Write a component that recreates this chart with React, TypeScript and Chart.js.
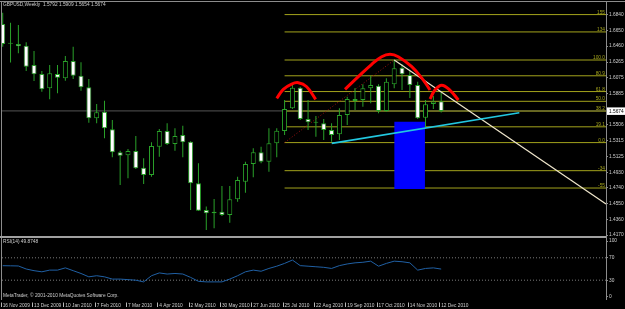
import React, { useEffect, useRef } from 'react';
import { Chart, registerables } from 'chart.js';

Chart.register(...registerables);

// ---------- data ----------
const symbolTitle = 'GBPUSD,Weekly';
const dateLabels = ['16 Nov 2009', '13 Dec 2009', '10 Jan 2010', '7 Feb 2010', '7 Mar 2010', '4 Apr 2010', '2 May 2010', '30 May 2010', '27 Jun 2010', '25 Jul 2010', '22 Aug 2010', '19 Sep 2010', '17 Oct 2010', '14 Nov 2010', '12 Dec 2010'];
const dateTickIndex = [0, 4, 8, 12, 16, 20, 24, 28, 32, 36, 40, 44, 48, 52, 56];

const opens = [1.6727, 1.6488, 1.6485, 1.6464, 1.6230, 1.6121, 1.5948, 1.6121, 1.6069, 1.6279, 1.6101, 1.5960, 1.5584, 1.5664, 1.5451, 1.5172, 1.5136, 1.5188, 1.4986, 1.4897, 1.5240, 1.5430, 1.5273, 1.5382, 1.5301, 1.4796, 1.4473, 1.4433, 1.4452, 1.4412, 1.4603, 1.4816, 1.5030, 1.5172, 1.5058, 1.5281, 1.5430, 1.5705, 1.5955, 1.5576, 1.5543, 1.5524, 1.5442, 1.5390, 1.5624, 1.5794, 1.5806, 1.5948, 1.5979, 1.5673, 1.5996, 1.6198, 1.6109, 1.5988, 1.5592, 1.5758, 1.5792];
const highs = [1.6864, 1.6743, 1.6715, 1.6505, 1.6400, 1.6158, 1.6230, 1.6230, 1.6339, 1.6452, 1.6263, 1.6061, 1.5758, 1.5798, 1.5564, 1.5192, 1.5212, 1.5370, 1.5099, 1.5293, 1.5455, 1.5524, 1.5463, 1.5495, 1.5305, 1.5039, 1.4515, 1.4606, 1.4764, 1.4764, 1.4876, 1.5058, 1.5221, 1.5240, 1.5463, 1.5463, 1.5806, 1.5988, 1.5967, 1.5806, 1.5612, 1.5576, 1.5524, 1.5705, 1.5846, 1.5951, 1.5996, 1.6101, 1.5996, 1.6069, 1.6291, 1.6239, 1.6158, 1.6028, 1.5806, 1.5855, 1.5909];
const lows = [1.6452, 1.6261, 1.6372, 1.6158, 1.6036, 1.5907, 1.5815, 1.5887, 1.6040, 1.6061, 1.5919, 1.5531, 1.5524, 1.5342, 1.5112, 1.4776, 1.4857, 1.4970, 1.4788, 1.4876, 1.5119, 1.5261, 1.5192, 1.5112, 1.4473, 1.4461, 1.4230, 1.4251, 1.4400, 1.4319, 1.4573, 1.4683, 1.4869, 1.5039, 1.4937, 1.5112, 1.5382, 1.5697, 1.5564, 1.5442, 1.5361, 1.5321, 1.5301, 1.5321, 1.5503, 1.5685, 1.5725, 1.5766, 1.5645, 1.5664, 1.5948, 1.5927, 1.5830, 1.5576, 1.5470, 1.5697, 1.5654];
const closes = [1.6485, 1.6497, 1.6457, 1.6210, 1.6118, 1.5936, 1.6130, 1.6076, 1.6279, 1.6101, 1.5960, 1.5584, 1.5657, 1.5463, 1.5172, 1.5131, 1.5188, 1.4978, 1.4897, 1.5249, 1.5430, 1.5273, 1.5370, 1.5293, 1.4796, 1.4464, 1.4433, 1.4452, 1.4412, 1.4603, 1.4836, 1.5030, 1.5172, 1.5058, 1.5281, 1.5434, 1.5697, 1.5955, 1.5576, 1.5536, 1.5531, 1.5442, 1.5382, 1.5624, 1.5818, 1.5818, 1.5948, 1.5988, 1.5673, 1.6028, 1.6190, 1.6118, 1.5988, 1.5584, 1.5754, 1.5788, 1.5674];

const rsiValues = [55.9, 55.7, 55.4, 50, 47, 45, 48, 48, 52, 47, 42, 36, 38, 36, 32, 32, 31, 30, 27, 38, 43, 41, 42, 41, 35, 28, 27, 27, 27, 32, 38, 45, 48, 46, 51, 55, 60, 66, 56, 55, 54, 53, 51, 56, 59, 61, 62, 64, 55, 60, 64, 63, 61, 48, 51, 52, 49.8748];
const rsiLevels = [30, 70];
const rsiTicks = [0, 30, 70, 100];

const priceTicks = [1.6840, 1.6650, 1.6460, 1.6265, 1.6075, 1.5885, 1.5506, 1.5315, 1.5125, 1.4930, 1.4740, 1.4550, 1.4360, 1.4170];

const fibLevels = [-55, -34, 0, 19.1, 38.2, 50, 61.8, 80.9, 100, 134, 155];
const fibLabels = ['-55', '-34', '0.0', '19.1', '38.2', '50.0', '61.8', '80.9', '100.0', '134', '155'];
const fibAnchorIndex = [36, 50];
const fibAnchorPrice = [1.5290, 1.6291];

const leftShoulderX = [35.0, 35.84, 36.9, 37.75, 38.82, 39.97];
const leftShoulderY = [1.5827, 1.5936, 1.6000, 1.6016, 1.5967, 1.5815];
const headX = [43.72, 45.42, 47.13, 48.4, 49.46, 50.52, 52.24, 53.72, 54.57];
const headY = [1.5936, 1.6089, 1.6239, 1.6331, 1.6360, 1.6331, 1.6210, 1.6048, 1.5927];
const rightShoulderX = [54.57, 55.21, 56.07, 57.1, 58.2];
const rightShoulderY = [1.5818, 1.5927, 1.5985, 1.5927, 1.5806];

const necklineX = [42.02, 65.98];
const necklineY = [1.5281, 1.5652];
const trendX = [50, 77.05];
const trendY = [1.6291, 1.4546];
const boxX = [50, 53.93];
const boxY = [1.5543, 1.4727];

const xMin = -0.09;
const xMax = 77.05;
const priceMin = 1.4170;
const priceMax = 1.6982;
const rsiMin = -5.36;
const rsiMax = 105.36;

// ---------- styles ----------
const FONT_FAMILY = '"Liberation Sans", Arial, sans-serif';
const FONT_SIZE = 4.8;
const textColor = '#cfcfcf';
const frameColor = '#8c8c8c';
const candleGreen = '#2aa22a';
const fibColor = '#a3a31c';

const pts = (xs: number[], ys: number[]) => xs.map((x, k) => ({ x, y: ys[k] }));
const fibPrice = (lvl: number) => fibAnchorPrice[0] + (lvl / 100) * (fibAnchorPrice[1] - fibAnchorPrice[0]);
const lineDs = (data: any[], color: string, width: number, order: number, extra: any = {}) => ({
  type: 'line',
  data,
  borderColor: color,
  borderWidth: width,
  pointRadius: 0,
  pointHoverRadius: 0,
  fill: false,
  order,
  ...extra,
});

export default function App() {
  const mainRef = useRef<HTMLCanvasElement>(null);
  const rsiRef = useRef<HTMLCanvasElement>(null);

  useEffect(() => {
    document.body.style.margin = '0';
    document.body.style.background = '#000';
    const last = closes.length - 1;
    const idx = opens.map((_, i) => i);
    const font = { family: FONT_FAMILY, size: FONT_SIZE };
    const fontStr = `${FONT_SIZE}px ${FONT_FAMILY}`;

    const mainPlugin = {
      id: 'mt4main',
      afterDraw(chart: any) {
        const { ctx, chartArea: ca } = chart;
        const y = chart.scales.y;
        ctx.save();
        ctx.fillStyle = frameColor;
        ctx.fillRect(0, 1, 625, 1);
        ctx.fillRect(1, 1, 1, 236);
        ctx.fillRect(ca.right, 1, 1, 237);
        ctx.fillStyle = '#a0a0a0';
        ctx.fillRect(0, 236, ca.right, 2);
        ctx.font = fontStr;
        ctx.fillStyle = textColor;
        ctx.textAlign = 'left';
        ctx.textBaseline = 'top';
        const ohlc = [opens[last], highs[last], lows[last], closes[last]].map((v) => v.toFixed(4)).join(' ');
        ctx.fillText(`${symbolTitle}  ${ohlc}`, 3, 2);
        ctx.fillStyle = fibColor;
        ctx.textAlign = 'right';
        ctx.textBaseline = 'alphabetic';
        fibLevels.forEach((l, k) => {
          ctx.fillText(fibLabels[k], ca.right - 1, y.getPixelForValue(fibPrice(l)) - 1);
        });
        const py = y.getPixelForValue(closes[last]);
        ctx.fillStyle = '#ffffff';
        ctx.fillRect(ca.right + 1, py - 3.5, 19, 7.5);
        ctx.fillStyle = '#000000';
        ctx.textAlign = 'left';
        ctx.textBaseline = 'middle';
        ctx.fillText(closes[last].toFixed(4), ca.right + 3, py + 0.3);
        ctx.restore();
      },
    };

    const rsiPlugin = {
      id: 'mt4rsi',
      afterDraw(chart: any) {
        const { ctx, chartArea: ca } = chart;
        const x = chart.scales.x;
        ctx.save();
        ctx.fillStyle = frameColor;
        ctx.fillRect(1, 0, 1, ca.bottom);
        ctx.fillRect(ca.right, 0, 1, ca.bottom);
        ctx.font = fontStr;
        ctx.fillStyle = textColor;
        ctx.textAlign = 'left';
        ctx.textBaseline = 'top';
        ctx.fillText(`RSI(14) ${rsiValues[last].toFixed(4)}`, 3, 1);
        ctx.fillText('MetaTrader, \u00a9 2001-2010 MetaQuotes Software Corp.', 3, 55.5);
        ctx.fillStyle = '#b8b8b8';
        dateTickIndex.forEach((i) => {
          const px = Math.round(x.getPixelForValue(i)) - 2;
          ctx.fillRect(px, 64.5, 1, 4.5);
        });
        ctx.restore();
      },
    };

    const fibDatasets = fibLevels.map((l) =>
      lineDs(pts([fibAnchorIndex[0], xMax], [fibPrice(l), fibPrice(l)]), fibColor, 1, 80)
    );

    const mainChart = new Chart(mainRef.current as HTMLCanvasElement, {
      type: 'bar',
      data: {
        datasets: [
          lineDs(pts([xMin, xMax], [closes[last], closes[last]]), '#555555', 1, 100),
          ...fibDatasets,
          lineDs(pts(fibAnchorIndex, fibAnchorPrice), '#a01010', 1, 75, { borderDash: [1, 2] }),
          lineDs(pts(boxX, [boxY[0], boxY[0]]), 'rgba(0,0,0,0)', 0, 70, { fill: '+1', backgroundColor: '#0000ff' }),
          lineDs(pts(boxX, [boxY[1], boxY[1]]), 'rgba(0,0,0,0)', 0, 70),
          {
            type: 'bar',
            data: idx.map((i) => ({ x: i, y: [lows[i], highs[i]] })),
            backgroundColor: candleGreen,
            borderWidth: 0,
            barThickness: 1,
            grouped: false,
            inflateAmount: 0,
            clip: 0,
            order: 50,
          },
          {
            type: 'bar',
            data: idx.map((i) => ({ x: i, y: [opens[i], closes[i]] })),
            backgroundColor: idx.map((i) => (closes[i] < opens[i] ? '#ffffff' : '#000000')),
            borderColor: candleGreen,
            borderWidth: 1,
            borderSkipped: false,
            barThickness: 5,
            grouped: false,
            inflateAmount: 0,
            minBarLength: 1,
            clip: 0,
            order: 40,
          },
          lineDs(pts(trendX, trendY), '#efe6cc', 1.2, 30),
          lineDs(pts(necklineX, necklineY), '#22c8e0', 1.6, 20),
          lineDs(pts(leftShoulderX, leftShoulderY), '#ff0000', 3, 10, { tension: 0.4 }),
          lineDs(pts(headX, headY), '#ff0000', 3, 10, { tension: 0.4 }),
          lineDs(pts(rightShoulderX, rightShoulderY), '#ff0000', 3, 10, { tension: 0.4 }),
        ] as any,
      },
      options: {
        animation: false,
        responsive: false,
        devicePixelRatio: 1,
        events: [],
        layout: { padding: { left: 2, top: 3, right: 0, bottom: 3 } },
        plugins: { legend: { display: false }, tooltip: { enabled: false }, title: { display: false } },
        scales: {
          x: { type: 'linear', min: xMin, max: xMax, display: false, offset: false },
          y: {
            type: 'linear',
            position: 'right',
            min: priceMin,
            max: priceMax,
            beginAtZero: false,
            afterBuildTicks: (s: any) => {
              s.ticks = priceTicks.map((v) => ({ value: v }));
            },
            afterFit: (s: any) => {
              s.width = 19;
              s.paddingTop = 0;
              s.paddingBottom = 0;
            },
            ticks: {
              callback: (v: any) => Number(v).toFixed(4),
              font,
              color: textColor,
              padding: 1,
              autoSkip: false,
            },
            grid: { drawOnChartArea: false, drawTicks: true, tickLength: 2, color: frameColor },
            border: { display: false },
          },
        },
      } as any,
      plugins: [mainPlugin],
    });

    const rsiChart = new Chart(rsiRef.current as HTMLCanvasElement, {
      type: 'line',
      data: {
        datasets: [
          ...rsiLevels.map((lv) => lineDs(pts([xMin, xMax], [lv, lv]), '#7a7a7a', 1, 20, { borderDash: [1, 2] })),
          lineDs(pts(idx, rsiValues), '#2060a4', 1, 10),
        ] as any,
      },
      options: {
        animation: false,
        responsive: false,
        devicePixelRatio: 1,
        events: [],
        layout: { padding: { left: 2, top: 0, right: 0, bottom: 0 } },
        plugins: { legend: { display: false }, tooltip: { enabled: false }, title: { display: false } },
        scales: {
          x: {
            type: 'linear',
            min: xMin,
            max: xMax,
            offset: false,
            afterBuildTicks: (s: any) => {
              s.ticks = dateTickIndex.map((v) => ({ value: v }));
            },
            afterFit: (s: any) => {
              s.height = 9;
              s.paddingLeft = 0;
              s.paddingRight = 0;
            },
            ticks: {
              callback: (_v: any, i: number) => dateLabels[i],
              font,
              color: textColor,
              padding: 2.5,
              align: 'start',
              autoSkip: false,
              maxRotation: 0,
              minRotation: 0,
            },
            grid: { display: false, drawTicks: false },
            border: { display: false },
          },
          y: {
            type: 'linear',
            position: 'right',
            min: rsiMin,
            max: rsiMax,
            afterBuildTicks: (s: any) => {
              s.ticks = rsiTicks.map((v) => ({ value: v }));
            },
            afterFit: (s: any) => {
              s.width = 19;
              s.paddingTop = 0;
              s.paddingBottom = 0;
            },
            ticks: {
              callback: (v: any) => String(v),
              font,
              color: textColor,
              padding: 1,
              autoSkip: false,
            },
            grid: { drawOnChartArea: false, drawTicks: true, tickLength: 2, color: frameColor },
            border: { display: false },
          },
        },
      } as any,
      plugins: [rsiPlugin],
    });

    return () => {
      mainChart.destroy();
      rsiChart.destroy();
    };
  }, []);

  return (
    <div style={{ position: 'absolute', left: 0, top: 0, width: 625, height: 309, background: '#000', overflow: 'hidden' }}>
      <canvas ref={mainRef} width={625} height={238} style={{ position: 'absolute', left: 0, top: 0, width: 625, height: 238 }} />
      <canvas ref={rsiRef} width={625} height={71} style={{ position: 'absolute', left: 0, top: 238, width: 625, height: 71 }} />
    </div>
  );
}
